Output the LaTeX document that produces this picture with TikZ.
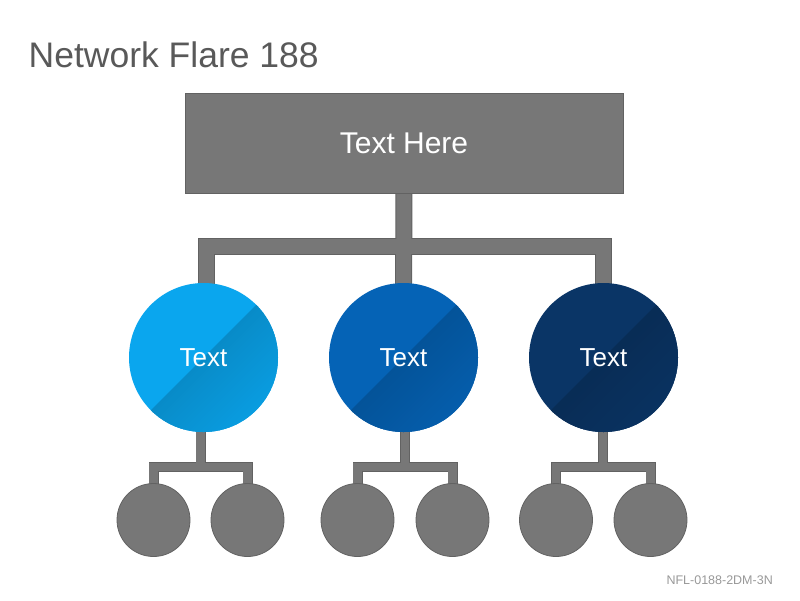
\documentclass[tikz,border=0pt]{standalone}
\usepackage{fontspec}
\newfontfamily\arialf{Liberation Sans}
\usetikzlibrary{calc}
\definecolor{titlegray}{HTML}{595959}
\definecolor{footgray}{HTML}{999999}
\definecolor{barfill}{HTML}{777777}
\definecolor{baredge}{HTML}{626262}
\definecolor{cone}{HTML}{0AA6EE}
\definecolor{ctwo}{HTML}{0563B6}
\definecolor{cthree}{HTML}{0A3566}
\pgfdeclarelayer{backdrop}
\pgfdeclarelayer{bg}
\pgfsetlayers{backdrop,bg,main}
\tikzset{
  topbox/.style={rectangle, minimum width=438pt, minimum height=100pt, inner sep=0pt,
    fill=barfill, draw=baredge, line width=0.8pt, text=white, font=\arialf\fontsize{30}{36}\selectfont},
  bigc/.style={circle, minimum size=149pt, inner sep=0pt,
    text=white, font=\arialf\fontsize{26}{30}\selectfont},
  smallc/.style={circle, minimum size=73pt, inner sep=0pt, fill=barfill, draw=baredge, line width=0.8pt},
  barout/.style={draw=baredge, line width=17pt, line join=miter},
  barin/.style={draw=barfill, line width=15pt, line join=miter},
  sbarout/.style={draw=baredge, line width=10pt, line join=miter},
  sbarin/.style={draw=barfill, line width=8.4pt, line join=miter},
}
\newcommand{\flarecircle}[2]{%
  \fill[#2] (#1.center) circle[radius=74.5];
  \begin{scope}
    \clip (#1.center) circle[radius=74.5];
    \begin{scope}[shift={(#1.center)}, rotate=45]
      \foreach \i in {0,...,29}{
        \pgfmathsetmacro\p{16-0.36*\i}
        \fill[black!\p!#2] (-80,\i*2.6) rectangle (80,\i*2.6+3.2);
      }
    \end{scope}
  \end{scope}
}
\begin{document}
\begin{tikzpicture}[x=1pt,y=-1pt]
\begin{pgfonlayer}{backdrop}
\useasboundingbox[fill=white] (0,0) rectangle (800,600);
\end{pgfonlayer}

\node[anchor=base west, inner sep=0pt, text=titlegray, font=\arialf\fontsize{35.5}{42}\selectfont] (title) at (28.5,67) {Network Flare 188};
\node[anchor=base east, inner sep=0pt, text=footgray, font=\arialf\fontsize{12.5}{15}\selectfont] (foot) at (773,584) {NFL-0188-2DM-3N};

\node[topbox] (top) at (404,143) {Text Here};

\node[bigc] (c1) at (203.5,357.5) {Text};
\node[bigc] (c2) at (403.5,357.5) {Text};
\node[bigc] (c3) at (603.5,357.5) {Text};

\node[smallc] (s11) at (153.5,520) {};
\node[smallc] (s12) at (247.5,520) {};
\node[smallc] (s21) at (357.5,520) {};
\node[smallc] (s22) at (452.5,520) {};
\node[smallc] (s31) at (556,520) {};
\node[smallc] (s32) at (650.5,520) {};

\coordinate (bar) at (404,246);
\coordinate (k1) at ($(c1.center)+(2.5,0)$);
\coordinate (j1) at (200.5,467);
\coordinate (j2) at (405,467);
\coordinate (j3) at (603,467);

\begin{pgfonlayer}{bg}
  \foreach \st in {barout,barin}{
    \draw[\st] (k1) |- (bar) -| (c3.center);
    \draw[\st] (top.center) -- (c2.center);
  }
  \foreach \st in {sbarout,sbarin}{
    \draw[\st] (s11.center) |- (j1) -| (s12.center);
    \draw[\st] (j1) -- (j1 |- c1.center);
    \draw[\st] (s21.center) |- (j2) -| (s22.center);
    \draw[\st] (j2) -- (j2 |- c2.center);
    \draw[\st] (s31.center) |- (j3) -| (s32.center);
    \draw[\st] (j3) -- (j3 |- c3.center);
  }
  \flarecircle{c1}{cone}
  \flarecircle{c2}{ctwo}
  \flarecircle{c3}{cthree}
\end{pgfonlayer}
\end{tikzpicture}
\end{document}
